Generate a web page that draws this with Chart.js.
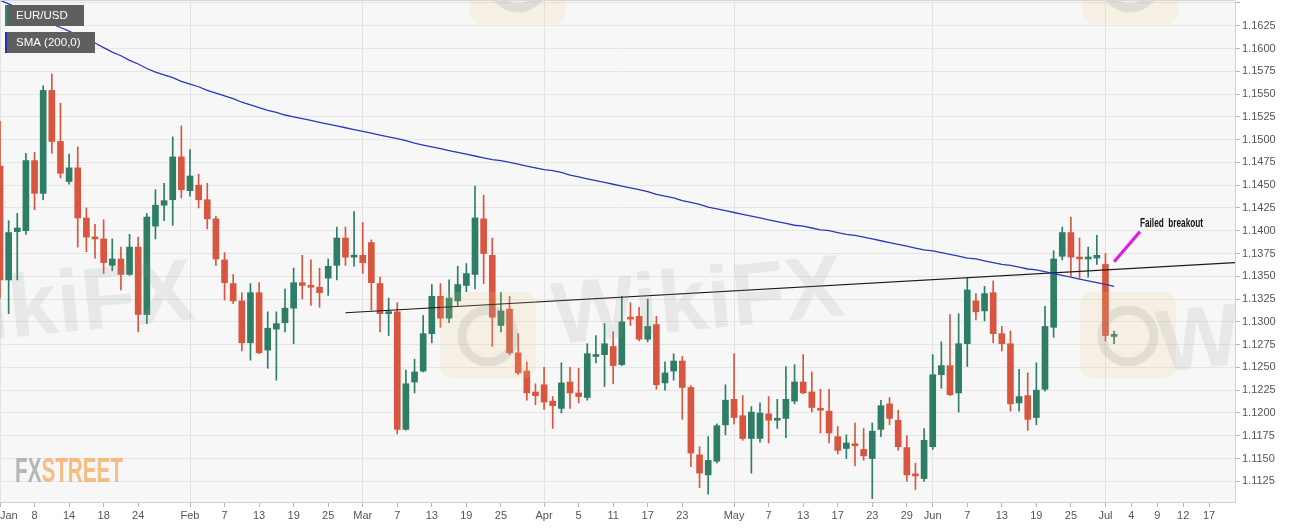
<!DOCTYPE html>
<html>
<head>
<meta charset="utf-8">
<script src="https://cdn.jsdelivr.net/npm/chart.js@4.4.1/dist/chart.umd.min.js"></script>
<style>
html,body{margin:0;padding:0;background:#ffffff;}
canvas{display:block;}
</style>
</head>
<body>
<canvas id="c" width="1299" height="528"></canvas>
<script>
// ---------- categories: trading days (2019) ----------
const tradingDays = {
  '01': [2,3,4,7,8,9,10,11,14,15,16,17,18,21,22,23,24,25,28,29,30,31],
  '02': [1,4,5,6,7,8,11,12,13,14,15,18,19,20,21,22,25,26,27,28],
  '03': [1,4,5,6,7,8,11,12,13,14,15,18,19,20,21,22,25,26,27,28,29],
  '04': [1,2,3,4,5,8,9,10,11,12,15,16,17,18,19,22,23,24,25,26,29,30],
  '05': [1,2,3,6,7,8,9,10,13,14,15,16,17,20,21,22,23,24,27,28,29,30,31],
  '06': [3,4,5,6,7,10,11,12,13,14,17,18,19,20,21,24,25,26,27,28],
  '07': [1,2,3,4,5,8,9,10,11,12,15,16,17,18,19,22]
};
const categories = [];
for (const m of Object.keys(tradingDays)) {
  for (const d of tradingDays[m]) categories.push('2019-' + m + '-' + String(d).padStart(2, '0'));
}

// ---------- x tick labels ----------
const tickDates = ['2019-01-02','2019-01-08','2019-01-14','2019-01-18','2019-01-24',
  '2019-02-01','2019-02-07','2019-02-13','2019-02-19','2019-02-25',
  '2019-03-01','2019-03-07','2019-03-13','2019-03-19','2019-03-25',
  '2019-04-01','2019-04-05','2019-04-11','2019-04-17','2019-04-23',
  '2019-05-01','2019-05-07','2019-05-13','2019-05-17','2019-05-23','2019-05-29',
  '2019-06-03','2019-06-07','2019-06-13','2019-06-19','2019-06-25',
  '2019-07-01','2019-07-04','2019-07-09','2019-07-12','2019-07-17'];
const tickTexts = ['Jan','8','14','18','24',
  'Feb','7','13','19','25',
  'Mar','7','13','19','25',
  'Apr','5','11','17','23',
  'May','7','13','17','23','29',
  'Jun','7','13','19','25',
  'Jul','4','9','12','17'];
const monthStarts = ['2019-01-02','2019-02-01','2019-03-01','2019-04-01','2019-05-01','2019-06-03','2019-07-01'];

// ---------- EUR/USD daily OHLC (Jan 2 .. Jul 2) ----------
const opens = [
  1.1471,1.1346,1.1399,1.1400,1.1477,1.1441,1.1554,1.1498,1.1454,1.1469,1.1414,1.1393,1.1391,1.1362,1.1369,1.1352,1.1382,1.1308,1.1405,1.1428,1.1434,1.1481,
  1.1444,1.1450,1.1434,1.1413,1.1368,1.1342,1.1323,1.1277,1.1332,1.1269,1.1292,1.1299,1.1315,1.1343,1.1340,1.1338,1.1348,1.1362,1.1392,1.1371,
  1.1373,1.1387,1.1342,1.1309,1.1311,1.1182,1.1234,1.1246,1.1287,1.1328,1.1304,1.1323,1.1340,1.1352,1.1413,1.1373,1.1296,1.1314,1.1266,1.1246,1.1223,
  1.1231,1.1213,1.1205,1.1234,1.1222,1.1217,1.1262,1.1264,1.1273,1.1253,1.1305,1.1306,1.1281,1.1297,1.1233,1.1246,1.1257,1.1228,1.1154,1.1132,1.1147,1.1187,
  1.1215,1.1197,1.1172,1.1172,1.1199,1.1192,1.1194,1.1213,1.1234,1.1223,1.1205,1.1202,1.1174,1.1161,1.1166,1.1160,1.1150,1.1182,1.1210,1.1192,1.1162,1.1133,1.1128,
  1.1163,1.1242,1.1252,1.1222,1.1276,1.1323,1.1312,1.1332,1.1287,1.1276,1.1211,1.1219,1.1195,1.1226,1.1294,1.1372,1.1398,1.1371,1.1369,1.1370,
  1.1363,1.1284
];
const highs = [
  1.1520,1.1411,1.1419,1.1485,1.1486,1.1559,1.1572,1.1540,1.1484,1.1492,1.1425,1.1407,1.1412,1.1391,1.1382,1.1396,1.1393,1.1419,1.1445,1.1452,1.1503,1.1515,
  1.1489,1.1462,1.1452,1.1416,1.1376,1.1352,1.1332,1.1342,1.1343,1.1311,1.1311,1.1336,1.1359,1.1373,1.1368,1.1359,1.1369,1.1404,1.1404,1.1421,
  1.1409,1.1390,1.1349,1.1326,1.1321,1.1247,1.1259,1.1307,1.1341,1.1342,1.1346,1.1361,1.1364,1.1449,1.1439,1.1392,1.1332,1.1328,1.1287,1.1256,1.1232,
  1.1250,1.1218,1.1255,1.1250,1.1249,1.1276,1.1285,1.1298,1.1289,1.1328,1.1321,1.1316,1.1325,1.1306,1.1256,1.1265,1.1262,1.1230,1.1163,1.1174,1.1188,1.1231,
  1.1265,1.1219,1.1207,1.1211,1.1218,1.1215,1.1251,1.1253,1.1264,1.1245,1.1226,1.1226,1.1185,1.1176,1.1189,1.1183,1.1189,1.1214,1.1217,1.1203,1.1175,1.1145,1.1183,
  1.1264,1.1278,1.1308,1.1309,1.1348,1.1331,1.1339,1.1345,1.1295,1.1290,1.1248,1.1244,1.1255,1.1317,1.1378,1.1404,1.1415,1.1392,1.1382,1.1395,
  1.1375,1.1290
];
const lows = [
  1.1326,1.1309,1.1346,1.1396,1.1423,1.1434,1.1485,1.1458,1.1451,1.1382,1.1377,1.1370,1.1353,1.1356,1.1335,1.1351,1.1289,1.1298,1.1391,1.1411,1.1406,1.1436,
  1.1438,1.1425,1.1402,1.1362,1.1324,1.1320,1.1268,1.1258,1.1265,1.1249,1.1236,1.1289,1.1276,1.1325,1.1318,1.1316,1.1329,1.1346,1.1362,1.1361,
  1.1353,1.1313,1.1289,1.1285,1.1177,1.1181,1.1222,1.1245,1.1277,1.1294,1.1299,1.1318,1.1333,1.1336,1.1342,1.1273,1.1289,1.1264,1.1242,1.1214,1.1209,
  1.1204,1.1183,1.1200,1.1205,1.1211,1.1214,1.1255,1.1229,1.1232,1.1252,1.1296,1.1279,1.1278,1.1226,1.1225,1.1236,1.1193,1.1141,1.1118,1.1111,1.1145,1.1176,
  1.1188,1.1170,1.1134,1.1168,1.1167,1.1183,1.1173,1.1210,1.1221,1.1201,1.1178,1.1167,1.1155,1.1150,1.1142,1.1148,1.1106,1.1174,1.1187,1.1159,1.1125,1.1116,1.1125,
  1.1160,1.1227,1.1219,1.1201,1.1251,1.1302,1.1301,1.1277,1.1268,1.1202,1.1202,1.1181,1.1187,1.1224,1.1283,1.1368,1.1350,1.1348,1.1349,1.1363,
  1.1279,1.1276
];
const closes = [
  1.1346,1.1398,1.1403,1.1477,1.1441,1.1554,1.1498,1.1463,1.1469,1.1414,1.1393,1.1391,1.1365,1.1369,1.1352,1.1382,1.1308,1.1415,1.1428,1.1433,1.1481,1.1445,
  1.1460,1.1434,1.1413,1.1369,1.1343,1.1323,1.1277,1.1332,1.1266,1.1293,1.1298,1.1315,1.1343,1.1340,1.1338,1.1332,1.1361,1.1392,1.1371,1.1373,
  1.1365,1.1343,1.1309,1.1311,1.1182,1.1232,1.1245,1.1287,1.1328,1.1304,1.1326,1.1341,1.1353,1.1414,1.1375,1.1305,1.1312,1.1266,1.1244,1.1222,1.1219,
  1.1212,1.1208,1.1233,1.1222,1.1218,1.1265,1.1264,1.1276,1.1252,1.1300,1.1303,1.1281,1.1295,1.1231,1.1244,1.1257,1.1228,1.1156,1.1134,1.1148,1.1186,1.1214,
  1.1195,1.1172,1.1201,1.1200,1.1192,1.1193,1.1215,1.1234,1.1222,1.1206,1.1203,1.1178,1.1159,1.1167,1.1164,1.1153,1.1180,1.1208,1.1194,1.1163,1.1132,1.1131,1.1170,
  1.1242,1.1252,1.1220,1.1276,1.1335,1.1311,1.1331,1.1287,1.1276,1.1210,1.1218,1.1193,1.1225,1.1295,1.1369,1.1398,1.1371,1.1369,1.1370,1.1373,
  1.1285,1.1286
];

// ---------- SMA (200) ----------
const sma200 = [
  1.1653,1.1649,1.1645,1.1640,1.1636,1.1632,1.1627,1.1623,1.1619,1.1614,
  1.1610,1.1606,1.1601,1.1596,1.1592,1.1587,1.1583,1.1578,1.1574,1.1571,
  1.1568,1.1564,1.1561,1.1558,1.1554,1.1551,1.1548,1.1545,1.1541,1.1538,
  1.1535,1.1532,1.1530,1.1527,1.1525,1.1523,1.1521,1.1519,1.1517,1.1515,
  1.1513,1.1511,1.1509,1.1507,1.1505,1.1503,1.1501,1.1499,1.1496,1.1494,
  1.1492,1.1490,1.1488,1.1486,1.1484,1.1482,1.1480,1.1478,1.1477,1.1475,
  1.1473,1.1471,1.1469,1.1467,1.1466,1.1464,1.1461,1.1459,1.1457,1.1455,
  1.1453,1.1451,1.1449,1.1447,1.1445,1.1443,1.1440,1.1438,1.1436,1.1433,
  1.1431,1.1429,1.1426,1.1424,1.1422,1.1420,1.1418,1.1416,1.1414,1.1412,
  1.1410,1.1408,1.1406,1.1405,1.1403,1.1401,1.1400,1.1398,1.1396,1.1395,
  1.1393,1.1391,1.1389,1.1387,1.1385,1.1383,1.1381,1.1379,1.1378,1.1376,
  1.1374,1.1372,1.1370,1.1369,1.1367,1.1365,1.1363,1.1362,1.1360,1.1358,
  1.1357,1.1355,1.1353,1.1351,1.1349,1.1347,1.1345,1.1343,1.1341,1.1339
];

// ---------- drawn annotations ----------
const trendDates = ['2019-02-27', '2019-07-22'];
const trendValues = [1.1310, 1.1365];
const arrowDates = ['2019-07-02', '2019-07-05'];
const arrowValues = [1.1366, 1.1399];
const noteText = 'Failed  breakout';
const noteDate = '2019-07-05';
const noteValue = 1.1408;

// ---------- y axis ----------
const yMin = 1.11023, yMax = 1.16521, yStep = 0.0025;

const GREEN = '#2e7d67', RED = '#d8563f';
const candleColors = closes.map((c, i) => c >= opens[i] ? GREEN : RED);

const idx = d => categories.indexOf(d);
const tickMap = {};
tickDates.forEach((d, i) => { tickMap[idx(d)] = tickTexts[i]; });
const monthIdx = new Set(monthStarts.map(idx));

function roundRect(ctx, x, y, w, h, r) {
  ctx.beginPath();
  ctx.moveTo(x + r, y);
  ctx.arcTo(x + w, y, x + w, y + h, r);
  ctx.arcTo(x + w, y + h, x, y + h, r);
  ctx.arcTo(x, y + h, x, y, r);
  ctx.arcTo(x, y, x + w, y, r);
  ctx.closePath();
}

const decor = {
  id: 'decor',
  beforeDraw(chart) {
    const { ctx, chartArea: a } = chart;
    ctx.save();
    ctx.fillStyle = '#ffffff';
    ctx.fillRect(0, 0, chart.width, chart.height);
    ctx.fillStyle = '#f7f7f7';
    ctx.fillRect(a.left, a.top, a.right - a.left, a.bottom - a.top);
    ctx.restore();
  },
  afterDatasetsDraw(chart) {
    const { ctx, chartArea: a } = chart;
    ctx.save();
    ctx.beginPath();
    ctx.rect(a.left, a.top, a.right - a.left, a.bottom - a.top);
    ctx.clip();
    // faint watermark logos
    [[440, 292], [1080, 292], [470, -62], [1082, -62]].forEach(([x, y]) => {
      roundRect(ctx, x, y, 96, 86, 12);
      ctx.fillStyle = 'rgba(244,205,130,0.16)';
      ctx.fill();
      ctx.beginPath();
      ctx.arc(x + 48, y + 44, 26, 0, Math.PI * 2);
      ctx.strokeStyle = 'rgba(140,140,140,0.18)';
      ctx.lineWidth = 9;
      ctx.stroke();
    });
    ctx.font = 'bold 88px "Liberation Sans", Arial, sans-serif';
    ctx.fillStyle = 'rgba(150,150,150,0.15)';
    [[-95, 348], [555, 344], [1160, 372]].forEach(([x, y]) => {
      ctx.save();
      ctx.translate(x, y);
      ctx.rotate(-0.1);
      ctx.fillText('WikiFX', 0, 0);
      ctx.restore();
    });
    ctx.restore();
  },
  afterDraw(chart) {
    const { ctx, chartArea: a, scales } = chart;
    ctx.save();
    // top border
    ctx.strokeStyle = '#d3d8e2';
    ctx.lineWidth = 1;
    ctx.beginPath();
    ctx.moveTo(a.left, a.top - 0.5);
    ctx.lineTo(a.right, a.top - 0.5);
    ctx.stroke();

    // legend tags
    const tag = (x, y, w, h, stripe, text) => {
      ctx.fillStyle = '#5f5f5f';
      ctx.fillRect(x, y, w, h);
      ctx.fillStyle = stripe;
      ctx.fillRect(x, y, 2, h);
      ctx.fillStyle = '#ffffff';
      ctx.font = '11.5px "Liberation Sans", Arial, sans-serif';
      ctx.textBaseline = 'middle';
      ctx.textAlign = 'left';
      ctx.fillText(text, x + 11, y + h / 2 + 0.5);
    };
    tag(5, 5, 79, 21, '#2e8a6c', 'EUR/USD');
    tag(5, 32, 90, 21, '#2233b0', 'SMA (200,0)');

    // annotation text
    const nx = scales.x.getPixelForValue(idx(noteDate));
    const ny = scales.y.getPixelForValue(noteValue);
    ctx.font = 'bold 13px "Liberation Sans Narrow", "Liberation Sans", Arial, sans-serif';
    const tw = ctx.measureText(noteText).width;
    ctx.save();
    ctx.translate(nx, ny);
    ctx.scale(63 / tw, 1);
    ctx.fillStyle = '#111111';
    ctx.textBaseline = 'middle';
    ctx.textAlign = 'left';
    ctx.fillText(noteText, 0, 0);
    ctx.restore();

    // FXSTREET logo
    ctx.font = 'bold 35px "Liberation Sans Narrow", "Liberation Sans", Arial, sans-serif';
    const wAll = ctx.measureText('FXSTREET').width;
    const wFx = ctx.measureText('FX').width;
    ctx.save();
    ctx.translate(15, 482);
    ctx.scale(108 / wAll, 1);
    ctx.textBaseline = 'alphabetic';
    ctx.textAlign = 'left';
    ctx.fillStyle = 'rgba(160,160,160,0.75)';
    ctx.fillText('FX', 0, 0);
    ctx.fillStyle = 'rgba(246,170,90,0.75)';
    ctx.fillText('STREET', wFx, 0);
    ctx.restore();
    ctx.restore();
  }
};

new Chart(document.getElementById('c'), {
  type: 'bar',
  data: {
    labels: categories,
    datasets: [
      {
        type: 'line', label: 'SMA (200,0)', data: sma200,
        borderColor: '#2a38b8', borderWidth: 1.3, pointRadius: 0, tension: 0, order: 0
      },
      {
        type: 'line', label: 'trend', data: trendDates.map((d, i) => ({ x: d, y: trendValues[i] })),
        borderColor: '#1a1a1a', borderWidth: 1.2, pointRadius: 0, order: 0
      },
      {
        type: 'line', label: 'arrow', data: arrowDates.map((d, i) => ({ x: d, y: arrowValues[i] })),
        borderColor: '#e020e0', borderWidth: 3.2, pointRadius: 0, order: 0
      },
      {
        label: 'EUR/USD', data: opens.map((o, i) => [o, closes[i]]),
        backgroundColor: candleColors, barThickness: 6, minBarLength: 2, grouped: false, order: 1
      },
      {
        label: 'wick', data: lows.map((l, i) => [l, highs[i]]),
        backgroundColor: candleColors, barThickness: 1, grouped: false, order: 2
      }
    ]
  },
  options: {
    responsive: false,
    devicePixelRatio: 1,
    animation: false,
    layout: { padding: { top: 1, left: 0, right: 0, bottom: 0 } },
    plugins: { legend: { display: false }, tooltip: { enabled: false } },
    scales: {
      x: {
        type: 'category',
        offset: false,
        grid: {
          offset: false,
          color: c => monthIdx.has(c.tick ? c.tick.value : c.index) ? '#e2e2e2' : 'rgba(0,0,0,0)',
          tickColor: c => ((c.tick ? c.tick.value : c.index) in tickMap) ? '#b5b5b5' : 'rgba(0,0,0,0)',
          tickLength: 5,
          lineWidth: 1
        },
        border: { color: '#cfcfcf' },
        ticks: {
          autoSkip: false, maxRotation: 0, minRotation: 0, align: 'inner', padding: 2,
          color: '#555555', font: { size: 11, family: '"Liberation Sans", Arial, sans-serif' },
          callback: (v) => (v in tickMap) ? tickMap[v] : ''
        },
        afterFit: s => { s.height = 26; s.paddingLeft = 0; s.paddingRight = 0; }
      },
      y: {
        position: 'right',
        min: yMin, max: yMax,
        grid: { color: '#e5e5e5', tickColor: '#b5b5b5', tickLength: 5 },
        border: { color: '#cdd2dc' },
        ticks: {
          stepSize: yStep, includeBounds: false, padding: 2,
          color: '#555555', font: { size: 11, family: '"Liberation Sans", Arial, sans-serif' },
          callback: v => v > 1.164 ? '' : Number(v).toFixed(4)
        },
        afterFit: s => { s.width = 64; s.paddingTop = 0; s.paddingBottom = 0; }
      }
    }
  },
  plugins: [decor]
});
</script>
</body>
</html>
